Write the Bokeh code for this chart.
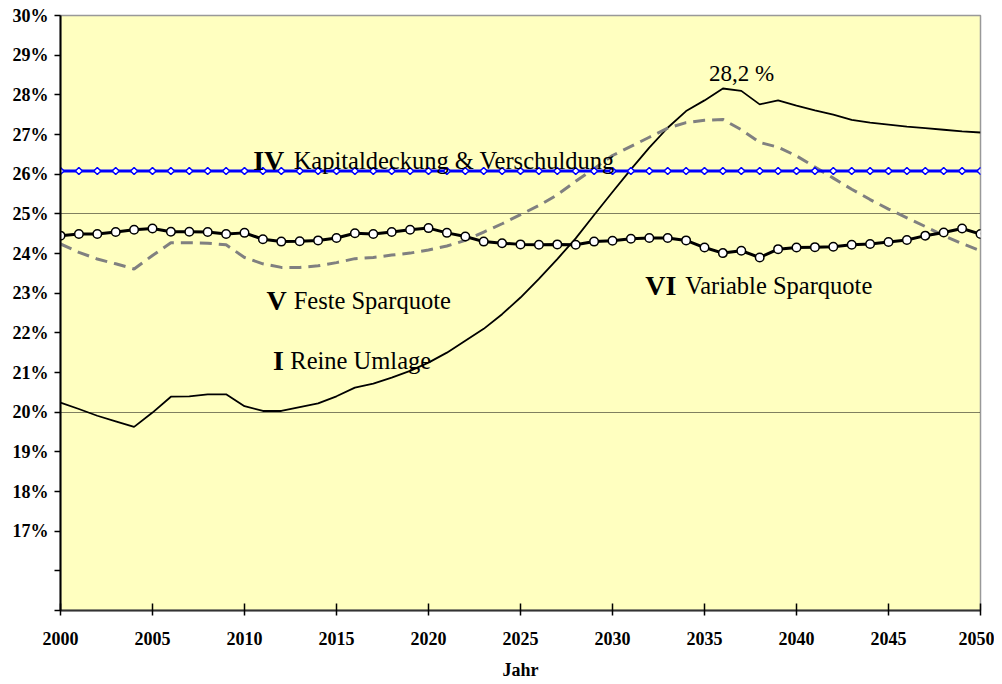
import math
from bokeh.plotting import figure
from bokeh.models import FixedTicker, Range1d
from bokeh.core.properties import value
from bokeh.embed import file_html
from bokeh.resources import INLINE

years = list(range(2000, 2051))

reine_umlage = [20.24, 20.08, 19.91, 19.77, 19.63, 19.99, 20.39, 20.40, 20.45, 20.45,
                20.15, 20.03, 20.03, 20.13, 20.22, 20.40, 20.62, 20.72, 20.87, 21.04,
                21.25, 21.50, 21.80, 22.10, 22.47, 22.89, 23.36, 23.86, 24.38, 24.97,
                25.55, 26.12, 26.67, 27.17, 27.59, 27.86, 28.16, 28.10, 27.76, 27.86,
                27.73, 27.61, 27.50, 27.37, 27.30, 27.25, 27.20, 27.16, 27.12, 27.08,
                27.05]

feste_sparquote = [24.24, 24.03, 23.86, 23.74, 23.61, 23.95, 24.27, 24.27, 24.26, 24.22,
                   23.90, 23.74, 23.65, 23.65, 23.69, 23.77, 23.87, 23.90, 23.96, 24.01,
                   24.09, 24.19, 24.33, 24.54, 24.75, 24.98, 25.21, 25.48, 25.82, 26.14,
                   26.47, 26.70, 26.93, 27.16, 27.30, 27.36, 27.38, 27.12, 26.80, 26.68,
                   26.46, 26.18, 25.90, 25.62, 25.36, 25.12, 24.90, 24.68, 24.45, 24.25,
                   24.07]

kapitaldeckung = [26.08, 26.08, 26.08, 26.08, 26.08, 26.08, 26.08, 26.08, 26.08, 26.08,
                  26.08, 26.08, 26.08, 26.08, 26.08, 26.08, 26.08, 26.08, 26.08, 26.08,
                  26.08, 26.08, 26.08, 26.08, 26.08, 26.08, 26.08, 26.08, 26.08, 26.08,
                  26.08, 26.08, 26.08, 26.08, 26.08, 26.08, 26.08, 26.08, 26.08, 26.08,
                  26.08, 26.08, 26.08, 26.08, 26.08, 26.08, 26.08, 26.08, 26.08, 26.08,
                  26.08]

variable_sparquote = [24.45, 24.49, 24.49, 24.54, 24.60, 24.63, 24.55, 24.55, 24.54, 24.49,
                      24.52, 24.36, 24.30, 24.31, 24.33, 24.39, 24.51, 24.49, 24.54, 24.60,
                      24.64, 24.52, 24.43, 24.30, 24.26, 24.23, 24.22, 24.23, 24.22, 24.30,
                      24.32, 24.37, 24.39, 24.39, 24.33, 24.15, 24.01, 24.07, 23.90, 24.11,
                      24.15, 24.16, 24.17, 24.22, 24.24, 24.29, 24.34, 24.45, 24.53, 24.63,
                      24.49]

x_ticks = [2000, 2005, 2010, 2015, 2020, 2025, 2030, 2035, 2040, 2045, 2050]
y_ticks = [15, 16, 17, 18, 19, 20, 21, 22, 23, 24, 25, 26, 27, 28, 29, 30]
y_tick_labels = ["", "", "17%", "18%", "19%", "20%", "21%", "22%", "23%", "24%",
                 "25%", "26%", "27%", "28%", "29%", "30%"]
grid_levels = [20, 25]

# series labels: roman numeral, name, anchor (year, percent)
label_numerals = ["IV", "V", "I", "VI"]
label_names = ["Kapitaldeckung & Verschuldung", "Feste Sparquote", "Reine Umlage", "Variable Sparquote"]
label_num_x = [2010.47, 2011.19, 2011.55, 2031.78]
label_name_x = [2012.67, 2012.67, 2012.49, 2033.95]
label_y = [26.35, 22.81, 21.30, 23.19]
peak_text = ["28,2 %"]
peak_x = [2035.25]
peak_y = [28.54]

SERIF = "Liberation Serif"

p = figure(frame_width=920, frame_height=595, output_backend="svg", toolbar_location=None,
           x_range=Range1d(2000, 2050), y_range=Range1d(15, 30),
           background_fill_color="#FFFFC0", border_fill_color="white")
p.min_border_left = 60
p.min_border_right = 14
p.min_border_top = 15
p.min_border_bottom = 70
p.outline_line_color = "#999999"
p.outline_line_width = 1.5

p.xgrid.visible = False
p.ygrid.ticker = FixedTicker(ticks=grid_levels)
p.ygrid.grid_line_color = "black"
p.ygrid.grid_line_width = 1
p.ygrid.grid_line_dash = "1 1"

p.yaxis.ticker = FixedTicker(ticks=y_ticks)
p.yaxis.major_label_overrides = {t: l for t, l in zip(y_ticks, y_tick_labels)}
p.yaxis.minor_tick_line_color = None
p.yaxis.major_tick_out = 6
p.yaxis.major_tick_in = 0
p.yaxis.axis_line_color = "black"
p.yaxis.axis_line_width = 2
p.yaxis.major_tick_line_width = 1.5
p.yaxis.major_label_standoff = 6
p.yaxis.major_label_text_font = SERIF
p.yaxis.major_label_text_font_style = "bold"
p.yaxis.major_label_text_font_size = "18px"
p.yaxis.major_label_text_color = "black"

p.xaxis.ticker = FixedTicker(ticks=x_ticks)
p.xaxis.major_label_overrides = {t: str(t) for t in x_ticks}
p.xaxis.minor_tick_line_color = None
p.xaxis.major_tick_out = 5
p.xaxis.major_tick_in = 7
p.xaxis.axis_line_color = "#333333"
p.xaxis.axis_line_width = 2
p.xaxis.major_tick_line_width = 1.5
p.xaxis.major_label_standoff = 16
p.xaxis.major_label_text_font = SERIF
p.xaxis.major_label_text_font_style = "bold"
p.xaxis.major_label_text_font_size = "18px"
p.xaxis.major_label_text_color = "black"
p.xaxis.axis_label = "Jahr"
p.xaxis.axis_label_text_font = SERIF
p.xaxis.axis_label_text_font_style = "bold"
p.xaxis.axis_label_text_font_size = "18px"
p.xaxis.axis_label_text_color = "black"
p.xaxis.axis_label_standoff = 12

# I Reine Umlage
p.line(years, reine_umlage, line_color="black", line_width=1.8)
# V Feste Sparquote
p.line(years, feste_sparquote, line_color="#808080", line_width=3, line_dash="12 7")
# IV Kapitaldeckung & Verschuldung
p.line(years, kapitaldeckung, line_color="#0000FF", line_width=3)
p.scatter(years, kapitaldeckung, marker="square", size=5, angle=math.pi / 4,
          fill_color="white", line_color="#0000FF", line_width=1.5)
# VI Variable Sparquote
p.line(years, variable_sparquote, line_color="black", line_width=3)
p.scatter(years, variable_sparquote, marker="circle", size=8.5, fill_color="white",
          line_color="black", line_width=1.5)

p.text(x=label_num_x, y=label_y, text=label_numerals, text_font=value(SERIF),
       text_font_style="bold", text_font_size="28px", text_color="black",
       text_align="left", text_baseline="alphabetic")
p.text(x=label_name_x, y=label_y, text=label_names, text_font=value(SERIF),
       text_font_size="24.5px", text_color="black",
       text_align="left", text_baseline="alphabetic")
p.text(x=peak_x, y=peak_y, text=peak_text, text_font=value(SERIF),
       text_font_size="23px", text_color="black",
       text_align="left", text_baseline="alphabetic")

open("out.html", "w").write(file_html(p, INLINE))
